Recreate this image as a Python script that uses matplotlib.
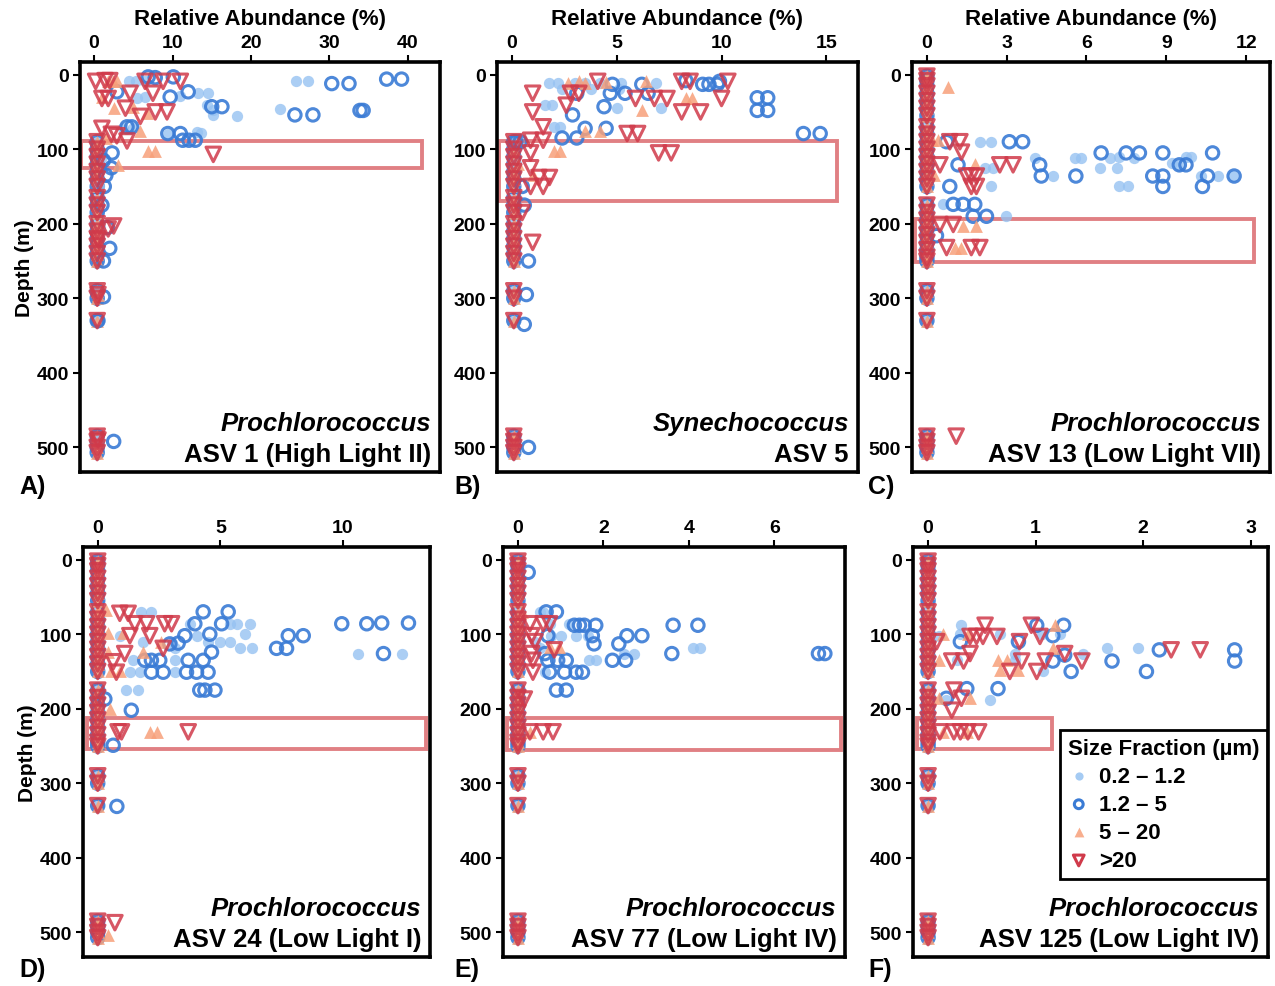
import numpy as np
import matplotlib
matplotlib.use("Agg")
import matplotlib.pyplot as plt
from matplotlib.patches import Rectangle

plt.rcParams['font.family'] = ['Liberation Sans', 'DejaVu Sans']
plt.rcParams['font.weight'] = 'bold'

# ---- data: (relative abundance %, depth m) per size fraction ----
fractions = ["0.2 \u2013 1.2", "1.2 \u2013 5", "5 \u2013 20", ">20"]

zero_depths_shallow = [2, 8, 15, 25, 35, 45, 55, 70, 80, 90, 100, 110, 120, 130, 140, 150,
                       175, 185, 195, 205, 215, 225, 235, 245, 250, 290, 300, 330, 485, 492, 500, 507]
zero_depths_deep = [90, 100, 110, 120, 130, 140, 150, 165, 175, 185, 200, 210, 220, 230, 240,
                    250, 290, 300, 330, 485, 492, 500, 507]

A_f1 = [(4.4, 9), (5.4, 9), (6.5, 8), (25.8, 9), (27.3, 9), (5.5, 32), (6.5, 30), (11, 28), (13.3, 25),
        (14.5, 25), (14.4, 41), (15.2, 48), (15.2, 54), (18.2, 55), (23.7, 46), (3.7, 72), (5, 72),
        (9.4, 80), (13.1, 77), (13.6, 78), (1, 110), (0.6, 150), (0.8, 205), (0.6, 290), (0.6, 490)]
A_f2 = [(6.9, 3), (7.8, 4), (10.1, 3), (37.3, 6), (39.2, 6), (30.3, 12), (32.5, 12), (12, 23), (2.9, 23),
        (9.7, 30), (15, 43), (16.3, 43), (33.9, 48), (34.3, 48), (25.6, 54), (27.9, 54), (4.2, 70),
        (4.8, 70), (9.4, 79), (11, 79), (11.3, 88), (12.1, 88), (12.9, 88), (2.3, 105), (1.2, 115),
        (2.2, 125), (1.5, 135), (1.3, 150), (1, 175), (1.7, 205), (2, 233), (1.2, 250), (1.2, 298),
        (0.5, 330), (2.5, 492)]
A_f3 = [(1.8, 8), (2.4, 8), (2.9, 8), (2.5, 45), (5, 44), (6.7, 52), (5.9, 76), (6.9, 103), (7.8, 103),
        (3.1, 121), (1, 30), (1.5, 85), (0.5, 205), (0.5, 295)]
A_f4 = [(0.2, 9), (1.4, 8), (2, 8), (6.5, 9), (8.8, 9), (11, 9), (4.6, 25), (7.5, 25), (1, 32), (1.8, 32),
        (4, 45), (7.8, 50), (9.3, 50), (5.9, 56), (1, 72), (2.2, 80), (2.9, 82), (4.2, 89), (15.2, 107),
        (2.5, 203), (1.8, 207), (0.5, 222), (0.5, 295), (0.5, 490)]

B_f1 = [(1.8, 11), (2.2, 11), (3, 11), (3.5, 11), (4.2, 11), (5.2, 11), (6.9, 11), (2.4, 19), (3.8, 19),
        (5.1, 19), (1.6, 41), (1.9, 41), (5, 45), (7.1, 45), (2, 70), (2.3, 70), (0.3, 95), (0.2, 120)]
B_f2 = [(4.8, 13), (6.2, 13), (8.3, 8), (9.1, 13), (9.4, 13), (9.8, 13), (9.9, 9), (3.1, 25), (4.7, 25),
        (5.4, 25), (6.5, 25), (11.7, 31), (12.2, 31), (4.4, 43), (11.7, 48), (12.2, 48), (2.9, 54),
        (3.5, 72), (4.5, 72), (13.9, 79), (14.7, 79), (2.4, 85), (3.1, 85), (0.2, 90), (0.4, 90),
        (0.5, 150), (0.6, 175), (0.8, 250), (0.7, 295), (0.6, 335), (0.8, 500)]
B_f3 = [(2.7, 11), (3.2, 9), (3.5, 11), (4.5, 10), (6.4, 8), (8.3, 31), (8.6, 31), (6.2, 47), (4.2, 76),
        (3.5, 76), (2.0, 103), (2.3, 103), (0.3, 120), (1, 135)]
B_f4 = [(4.1, 9), (8.1, 9), (8.5, 9), (10.3, 9), (1, 25), (2.8, 25), (3.2, 25), (5.9, 32), (6.8, 32),
        (7.4, 32), (10, 32), (2.6, 41), (1, 50), (8.1, 50), (9, 50), (1.5, 70), (5.5, 79), (6, 79),
        (0.9, 88), (1.5, 88), (0.9, 105), (7, 105), (7.6, 105), (0.9, 125), (1.3, 138), (1.8, 138),
        (0.9, 150), (1.5, 150), (0.5, 185), (1, 225)]

C_f1 = [(1.99, 90), (2.4, 90), (4.05, 112), (5.55, 112), (5.8, 112), (6.9, 112), (7.24, 110), (7.8, 112),
        (9.74, 110), (9.92, 110), (9.2, 118), (2.2, 125), (2.5, 125), (6.49, 125), (7.16, 125),
        (9.49, 121), (4.74, 136), (10.3, 136), (10.93, 136), (11.5, 136), (2.4, 150), (7.24, 150),
        (7.55, 150), (0.61, 174), (2.99, 190)]
C_f2 = [(0.74, 90), (3.1, 90), (3.6, 90), (6.55, 105), (7.49, 105), (7.99, 105), (8.87, 105), (10.74, 105),
        (1.17, 121), (4.24, 121), (9.49, 121), (9.74, 121), (4.3, 136), (5.6, 136), (8.49, 136),
        (8.87, 136), (10.55, 136), (11.55, 136), (0.86, 150), (8.87, 150), (10.36, 150), (0.99, 174),
        (1.36, 174), (1.8, 174), (1.74, 190), (2.24, 190), (0.36, 216)]
C_f3 = [(0.81, 16), (0.21, 88), (0.4, 88), (1.8, 120), (0.26, 134), (1.36, 203), (1.86, 203), (1.05, 232),
        (1.3, 232)]
C_f4 = [(0.86, 90), (1.24, 90), (1.3, 104), (0.49, 121), (2.74, 121), (3.24, 121), (1.49, 136), (1.67, 136),
        (1.86, 136), (1.67, 150), (1.86, 150), (0.49, 201), (0.99, 201), (0.74, 232), (1.67, 232),
        (1.99, 232), (1.1, 485)]

D_f1 = [(1.78, 70), (2.19, 70), (3.76, 86), (5.39, 86), (5.66, 86), (6.2, 86), (0.9, 102), (4.03, 102),
        (6.0, 100), (1.85, 110), (3.01, 112), (4.5, 110), (4.98, 110), (5.39, 110), (3.14, 119), (5.8, 119),
        (6.27, 119), (10.6, 126), (12.4, 126), (1.44, 135), (3.14, 135), (1.31, 151), (1.71, 151),
        (3.14, 151), (1.17, 175), (1.65, 175)]
D_f2 = [(4.3, 70), (5.32, 70), (3.96, 86), (5.05, 86), (9.95, 86), (10.97, 86), (11.58, 85), (12.67, 85),
        (3.55, 102), (4.57, 100), (7.77, 102), (8.38, 102), (2.94, 113), (3.28, 112), (7.29, 119),
        (7.7, 119), (4.64, 124), (11.65, 126), (1.92, 135), (2.19, 135), (2.53, 135), (3.69, 135),
        (4.3, 135), (2.19, 151), (2.67, 151), (3.62, 151), (4.03, 151), (4.5, 151), (4.16, 175),
        (4.37, 175), (4.78, 175), (1.37, 202), (0.63, 249), (0.29, 187), (0.78, 331)]
D_f3 = [(0.01, 68), (0.35, 68), (0.42, 99), (1.03, 99), (2.6, 110), (0.42, 124), (1.85, 124), (0.56, 149),
        (0.9, 149), (0.49, 200), (2.12, 231), (2.4, 231), (0.4, 503)]
D_f4 = [(0.9, 72), (1.24, 72), (1.51, 86), (1.99, 86), (2.73, 86), (3.01, 86), (1.31, 102), (2.12, 102),
        (2.67, 119), (1.1, 126), (0.63, 137), (0.76, 151), (0.83, 231), (0.97, 231), (3.69, 231),
        (0.7, 487)]

E_f1 = [(0.51, 70), (0.59, 70), (0.74, 86), (1.2, 86), (0.78, 102), (1.01, 102), (1.36, 102), (1.63, 102),
        (0.51, 119), (4.1, 119), (4.25, 119), (2.48, 126), (2.71, 126), (1.67, 135), (1.82, 135),
        (0.63, 151), (0.4, 110)]
E_f2 = [(0.24, 17), (0.66, 70), (0.9, 70), (1.32, 88), (1.44, 88), (1.55, 88), (1.82, 88), (3.63, 88),
        (4.21, 88), (0.7, 102), (1.74, 102), (2.55, 102), (2.9, 102), (1.78, 113), (2.36, 113), (0.63, 126),
        (3.6, 126), (7.03, 126), (7.18, 126), (0.7, 135), (0.93, 135), (1.13, 135), (2.21, 135),
        (2.52, 135), (0.74, 151), (1.09, 151), (1.36, 151), (1.51, 151), (0.9, 175), (1.13, 175)]
E_f3 = [(0.01, 86), (0.74, 117), (0.97, 117), (0.28, 231), (0.1, 70)]
E_f4 = [(0.28, 86), (0.59, 86), (0.74, 86), (0.32, 102), (0.4, 110), (0.85, 121), (0.32, 126),
        (0.35, 151), (0.15, 187), (0.28, 231), (0.59, 231), (0.82, 231), (0.35, 135)]

F_f1 = [(0.31, 88), (0.3, 100), (0.67, 100), (1.06, 100), (1.23, 100), (1.66, 119), (1.95, 119), (1.44, 126),
        (0.81, 126), (0.27, 135), (0.81, 135), (1.07, 150), (0.17, 188), (0.58, 188), (0.1, 102)]
F_f2 = [(1.01, 88), (1.26, 88), (1.16, 102), (0.3, 110), (0.84, 110), (2.15, 121), (2.85, 121), (1.27, 128),
        (1.16, 136), (1.71, 136), (2.85, 136), (1.33, 150), (2.03, 150), (0.36, 173), (0.65, 173),
        (0.17, 186)]
F_f3 = [(1.18, 87), (0.14, 100), (0.37, 100), (1.16, 119), (0.1, 135), (0.65, 135), (0.73, 135), (0.67, 148),
        (0.84, 148), (0.1, 186), (0.39, 186), (0.14, 231), (0.36, 231)]
F_f4 = [(0.53, 88), (0.96, 88), (0.39, 103), (0.45, 103), (0.51, 103), (0.64, 103), (1.04, 103), (0.08, 110),
        (0.85, 110), (2.26, 121), (2.53, 121), (0.39, 126), (1.27, 126), (0.22, 136), (0.33, 136),
        (0.87, 136), (1.09, 136), (1.43, 136), (0.76, 150), (1.01, 150), (0.24, 175), (0.31, 186),
        (0.22, 202), (0.11, 231), (0.24, 231), (0.3, 231), (0.37, 231), (0.47, 231)]

titles = [("Prochlorococcus", "ASV 1 (High Light II)"), ("Synechococcus", "ASV 5"),
          ("Prochlorococcus", "ASV 13 (Low Light VII)"), ("Prochlorococcus", "ASV 24 (Low Light I)"),
          ("Prochlorococcus", "ASV 77 (Low Light IV)"), ("Prochlorococcus", "ASV 125 (Low Light IV)")]
panel_letters = ["A)", "B)", "C)", "D)", "E)", "F)"]
xticks = [[0, 10, 20, 30, 40], [0, 5, 10, 15], [0, 3, 6, 9, 12], [0, 5, 10], [0, 2, 4, 6], [0, 1, 2, 3]]
xlims = [(-1.8, 44.1), (-0.7, 16.5), (-0.56, 12.9), (-0.6, 13.55), (-0.35, 7.65), (-0.14, 3.16)]
zero_x = [0.4, 0.1, 0.0, 0.0, 0.0, 0.0]
zero_sets = [zero_depths_deep, zero_depths_deep, zero_depths_shallow,
             zero_depths_shallow, zero_depths_shallow, zero_depths_shallow]
# highlighted depth band: (x0, x1, depth top, depth bottom)
boxes = [(-1.7, 41.8, 89, 125), (-0.6, 15.5, 89, 169), (-0.45, 12.3, 193, 252),
         (-0.45, 13.4, 212, 254), (-0.25, 7.55, 213, 256), (-0.1, 1.15, 213, 254)]

panels = [(A_f1, A_f2, A_f3, A_f4), (B_f1, B_f2, B_f3, B_f4), (C_f1, C_f2, C_f3, C_f4),
          (D_f1, D_f2, D_f3, D_f4), (E_f1, E_f2, E_f3, E_f4), (F_f1, F_f2, F_f3, F_f4)]

# axes rectangles in figure fractions
positions = [(0.0627, 0.5208, 0.2824, 0.4154), (0.3898, 0.5208, 0.2831, 0.4154),
             (0.7153, 0.5208, 0.2808, 0.4154), (0.0651, 0.0294, 0.2722, 0.4154),
             (0.3945, 0.0294, 0.2682, 0.4154), (0.7161, 0.0294, 0.2784, 0.4154)]
letter_pos = [(0.015, 0.507), (0.356, 0.507), (0.681, 0.507),
              (0.015, 0.017), (0.356, 0.017), (0.681, 0.017)]

c_light = "#96C2F2"
c_blue = "#3A7BD5"
c_orange = "#F7A07A"
c_red = "#D03A4A"

S_LIGHT, S_OPEN, S_UP, S_DOWN = 66, 80, 85, 110

fig = plt.figure(figsize=(12.75, 9.87), dpi=100)

for i, (f1, f2, f3, f4) in enumerate(panels):
    ax = fig.add_axes(positions[i])
    zd = np.array(zero_sets[i])
    zx = np.full(len(zd), zero_x[i])
    # stacked near-zero samples
    ax.scatter(zx, zd, s=S_LIGHT, color=c_light, alpha=0.85, linewidths=0, zorder=3)
    ax.scatter(zx, zd, s=S_OPEN, facecolors="none", edgecolors=c_blue, linewidths=2.2, alpha=0.9, zorder=3)
    ax.scatter(zx, zd, s=S_UP, marker="^", color=c_orange, alpha=0.85, linewidths=0, zorder=3)
    ax.scatter(zx, zd, s=S_DOWN, marker="v", facecolors="none", edgecolors=c_red, linewidths=2.2,
               alpha=0.85, zorder=4)

    a = np.array(f1)
    ax.scatter(a[:, 0], a[:, 1], s=S_LIGHT, color=c_light, alpha=0.8, linewidths=0, zorder=3)
    a = np.array(f2)
    ax.scatter(a[:, 0], a[:, 1], s=S_OPEN, facecolors="none", edgecolors=c_blue, linewidths=2.2,
               alpha=0.9, zorder=3)
    a = np.array(f3)
    ax.scatter(a[:, 0], a[:, 1], s=S_UP, marker="^", color=c_orange, alpha=0.85, linewidths=0, zorder=3)
    a = np.array(f4)
    ax.scatter(a[:, 0], a[:, 1], s=S_DOWN, marker="v", facecolors="none", edgecolors=c_red, linewidths=2.2,
               alpha=0.85, zorder=4)

    x0, x1, d0, d1 = boxes[i]
    ax.add_patch(Rectangle((x0, d0), x1 - x0, d1 - d0, fill=False, edgecolor="#DB6A6E",
                           linewidth=2.8, alpha=0.85, zorder=2))

    ax.set_xlim(*xlims[i])
    ax.set_ylim(533, -17)
    ax.xaxis.tick_top()
    ax.set_xticks(xticks[i])
    ax.set_yticks([0, 100, 200, 300, 400, 500])
    ax.tick_params(axis="both", labelsize=14, width=1.5, length=5, pad=3)
    for lab in ax.get_xticklabels() + ax.get_yticklabels():
        lab.set_fontweight("bold")
    for sp in ax.spines.values():
        sp.set_linewidth(2.6)

    if i < 3:
        ax.xaxis.set_label_position("top")
        ax.set_xlabel("Relative Abundance (%)", fontsize=16, fontweight="bold", labelpad=7)
    if i in (0, 3):
        ax.set_ylabel("Depth (m)", fontsize=15, fontweight="bold", labelpad=2)

    genus, asv = titles[i]
    ax.text(0.975, 0.12, genus, transform=ax.transAxes, ha="right", va="center",
            fontsize=18.5, fontweight="bold", style="italic")
    ax.text(0.975, 0.045, asv, transform=ax.transAxes, ha="right", va="center",
            fontsize=18.5, fontweight="bold")

    fig.text(letter_pos[i][0], letter_pos[i][1], panel_letters[i], fontsize=18, fontweight="bold",
             ha="left", va="center")

    if i == 5:
        handles = [
            ax.scatter([], [], s=35, color=c_light, alpha=0.85, linewidths=0),
            ax.scatter([], [], s=40, facecolors="none", edgecolors=c_blue, linewidths=2.2),
            ax.scatter([], [], s=50, marker="^", color=c_orange, alpha=0.85, linewidths=0),
            ax.scatter([], [], s=60, marker="v", facecolors="none", edgecolors=c_red, linewidths=2.2),
        ]
        leg = ax.legend(handles, fractions, title="Size Fraction (\u00b5m)", loc="lower right",
                        bbox_to_anchor=(0.997, 0.19), borderaxespad=0, fontsize=16, title_fontsize=16,
                        frameon=True, fancybox=False, edgecolor="black", framealpha=1,
                        handletextpad=0.4, labelspacing=0.32, borderpad=0.35, handlelength=1.0)
        leg.get_frame().set_linewidth(2)
        leg.get_title().set_fontweight("bold")
        leg._legend_box.align = "left"
        for t in leg.get_texts():
            t.set_fontweight("bold")

fig.savefig("out.png", dpi=100)
